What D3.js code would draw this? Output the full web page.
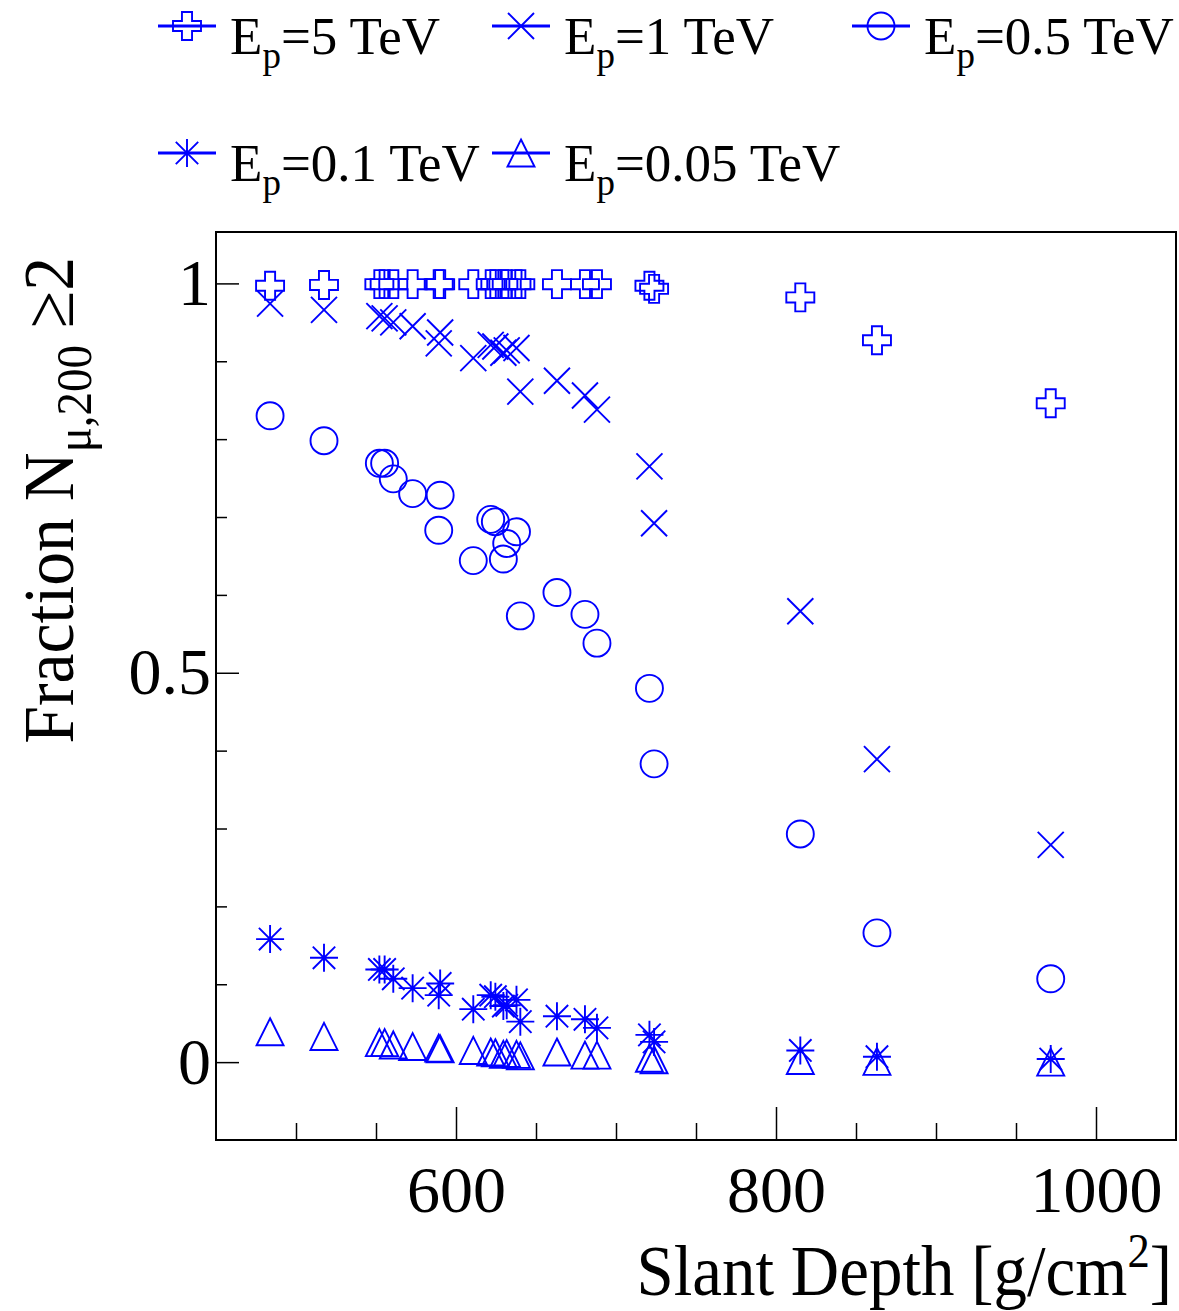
<!DOCTYPE html>
<html>
<head>
<meta charset="utf-8">
<script src="https://cdn.jsdelivr.net/npm/d3@7"></script>
<style>
  body { margin: 0; background: #fff; }
  text { font-family: "Liberation Serif", "DejaVu Serif", serif; fill: #000; }
</style>
</head>
<body>
<svg id="chart" width="1179" height="1311"></svg>
<script>
// Slant depth of each simulated configuration [g/cm^2]
const depths = [483.8, 517.5, 552.1, 555.4, 560.8, 572.9, 589.2, 590.1, 610.8, 621.7,
                624.6, 629.6, 631.7, 637.8, 640.2, 663.1, 680.6, 688.1, 720.9, 723.8,
                815.2, 863.1, 971.7];

// Fraction of events with N_mu,200 >= 2, one array per primary energy
const frac5TeV = [0.997, 0.998, 0.999, 0.999, 0.999, 0.999, 0.999, 0.999, 0.999, 0.999,
                  0.999, 0.999, 0.999, 0.999, 0.999, 0.999, 0.999, 0.999, 0.997, 0.993,
                  0.982, 0.927, 0.846];
const frac1TeV = [0.974, 0.966, 0.958, 0.955, 0.950, 0.945, 0.923, 0.937, 0.904, 0.921,
                  0.919, 0.911, 0.914, 0.917, 0.861, 0.875, 0.856, 0.838, 0.765, 0.692,
                  0.579, 0.389, 0.279];
const frac05TeV = [0.830, 0.798, 0.769, 0.769, 0.749, 0.730, 0.683, 0.728, 0.644, 0.697,
                   0.694, 0.646, 0.666, 0.681, 0.573, 0.603, 0.575, 0.538, 0.480, 0.383,
                   0.293, 0.166, 0.107];
const frac01TeV = [0.158, 0.134, 0.119, 0.119, 0.107, 0.095, 0.086, 0.101, 0.068, 0.086,
                   0.084, 0.072, 0.073, 0.080, 0.052, 0.059, 0.055, 0.044, 0.035, 0.026,
                   0.015, 0.007, 0.004];
const frac005TeV = [0.039, 0.033, 0.025, 0.025, 0.022, 0.020, 0.018, 0.017, 0.015, 0.013,
                    0.012, 0.010, 0.011, 0.010, 0.008, 0.013, 0.009, 0.009, 0.005, 0.003,
                    0.002, 0.001, 0.000];

const energyLabels = ["5", "1", "0.5", "0.1", "0.05"];
const xMajorTicks = [600, 800, 1000];
const xMinorTicks = [500, 550, 650, 700, 750, 850, 900, 950];
const yMajorTicks = [0, 0.5, 1];
const yMinorTicks = [0.1, 0.2, 0.3, 0.4, 0.6, 0.7, 0.8, 0.9];

// ---- marker shapes (size = full width squared) ----
const openCross = { draw(c, size) {
  const r = Math.sqrt(size) / 2, a = r * 0.36;
  c.moveTo(-a, -r); c.lineTo(a, -r); c.lineTo(a, -a); c.lineTo(r, -a); c.lineTo(r, a);
  c.lineTo(a, a); c.lineTo(a, r); c.lineTo(-a, r); c.lineTo(-a, a); c.lineTo(-r, a);
  c.lineTo(-r, -a); c.lineTo(-a, -a); c.closePath();
}};
const diagCross = { draw(c, size) {
  const r = Math.sqrt(size) / 2;
  c.moveTo(-r, -r); c.lineTo(r, r); c.moveTo(-r, r); c.lineTo(r, -r);
}};
const openCircle = { draw(c, size) {
  const r = Math.sqrt(size) / 2;
  c.moveTo(r, 0); c.arc(0, 0, r, 0, 2 * Math.PI);
}};
const star = { draw(c, size) {
  const r = Math.sqrt(size) / 2, d = r * 0.8;
  c.moveTo(-r, 0); c.lineTo(r, 0); c.moveTo(0, -r); c.lineTo(0, r);
  c.moveTo(-d, -d); c.lineTo(d, d); c.moveTo(-d, d); c.lineTo(d, -d);
}};
const openTriangle = { draw(c, size) {
  const r = Math.sqrt(size) / 2;
  c.moveTo(0, -r); c.lineTo(r, r); c.lineTo(-r, r); c.closePath();
}};

const series = [
  { label: energyLabels[0], values: frac5TeV,   shape: openCross,    size: 28 },
  { label: energyLabels[1], values: frac1TeV,   shape: diagCross,    size: 26 },
  { label: energyLabels[2], values: frac05TeV,  shape: openCircle,   size: 27 },
  { label: energyLabels[3], values: frac01TeV,  shape: star,         size: 28 },
  { label: energyLabels[4], values: frac005TeV, shape: openTriangle, size: 27 }
];

const markerColor = "#0000ff";
const svg = d3.select("#chart");

const frame = { left: 216, right: 1176, top: 232, bottom: 1140 };
const x = d3.scaleLinear().domain([450, 1050]).range([frame.left, frame.right]);
const y = d3.scaleLinear().domain([-0.1, 1.066]).range([frame.bottom, frame.top]);

// ---- axes: ticks point inward from bottom and left edges ----
const fmt = d => String(d);

svg.append("g")
  .attr("transform", `translate(0,${frame.bottom})`)
  .call(d3.axisBottom(x).tickValues(xMinorTicks).tickSize(-17).tickFormat(""))
  .call(g => g.select(".domain").remove());
svg.append("g")
  .attr("transform", `translate(0,${frame.bottom})`)
  .call(d3.axisBottom(x).tickValues(xMajorTicks).tickSize(-33).tickPadding(25).tickFormat(fmt))
  .call(g => g.select(".domain").remove())
  .call(g => g.selectAll("text").style("font-family", '"Liberation Serif", serif').style("font-size", "66px").attr("fill", "#000"));

svg.append("g")
  .attr("transform", `translate(${frame.left},0)`)
  .call(d3.axisLeft(y).tickValues(yMinorTicks).tickSize(-11).tickFormat(""))
  .call(g => g.select(".domain").remove());
svg.append("g")
  .attr("transform", `translate(${frame.left},0)`)
  .call(d3.axisLeft(y).tickValues(yMajorTicks).tickSize(-23).tickPadding(5).tickFormat(fmt))
  .call(g => g.select(".domain").remove())
  .call(g => g.selectAll("text").style("font-family", '"Liberation Serif", serif').style("font-size", "66px").attr("fill", "#000"));

svg.selectAll(".tick line").attr("stroke", "#000").attr("stroke-width", 1.5);

// frame
svg.append("rect")
  .attr("x", frame.left).attr("y", frame.top)
  .attr("width", frame.right - frame.left).attr("height", frame.bottom - frame.top)
  .attr("fill", "none").attr("stroke", "#000").attr("stroke-width", 2);

// ---- data markers ----
series.forEach(s => {
  const sym = d3.symbol().type(s.shape).size(s.size * s.size);
  svg.append("g")
    .selectAll("path")
    .data(depths.map((d, i) => [d, s.values[i]]))
    .join("path")
    .attr("transform", d => `translate(${x(d[0])},${y(d[1])})`)
    .attr("d", sym)
    .attr("fill", "none")
    .attr("stroke", markerColor)
    .attr("stroke-width", 1.9)
    .attr("stroke-linejoin", "miter");
});

// ---- legend (3 columns) ----
const legendCols = [187, 521, 881];
const legendRows = [26, 153];
series.forEach((s, i) => {
  const cx = legendCols[i % 3], cy = legendRows[Math.floor(i / 3)];
  const g = svg.append("g").attr("transform", `translate(${cx},${cy})`);
  g.append("line").attr("x1", -29).attr("x2", 29).attr("y1", 0).attr("y2", 0)
    .attr("stroke", markerColor).attr("stroke-width", 3);
  g.append("path").attr("d", d3.symbol().type(s.shape).size(s.size * s.size))
    .attr("fill", "none").attr("stroke", markerColor).attr("stroke-width", 1.9);
  const t = g.append("text").attr("x", 43).attr("y", 28).style("font-size", "53px");
  t.append("tspan").text("E");
  t.append("tspan").attr("dy", 14).style("font-size", "37px").text("p");
  t.append("tspan").attr("dy", -14).text(`=${s.label} TeV`);
});

// ---- axis titles ----
const xt = svg.append("text")
  .attr("transform", `translate(1172,1295) scale(0.93,1)`)
  .attr("text-anchor", "end").style("font-size", "72px");
xt.append("tspan").text("Slant Depth [g/cm");
xt.append("tspan").attr("dy", -28).style("font-size", "48px").text("2");
xt.append("tspan").attr("dy", 28).text("]");

const yt = svg.append("text")
  .attr("transform", `translate(73,257) rotate(-90) scale(0.94,1)`)
  .attr("text-anchor", "end").style("font-size", "72px");
yt.append("tspan").text("Fraction N");
yt.append("tspan").attr("dy", 18).style("font-size", "50px").text("μ,200");
yt.append("tspan").attr("dy", -18).text(" ≥2");
</script>
</body>
</html>
